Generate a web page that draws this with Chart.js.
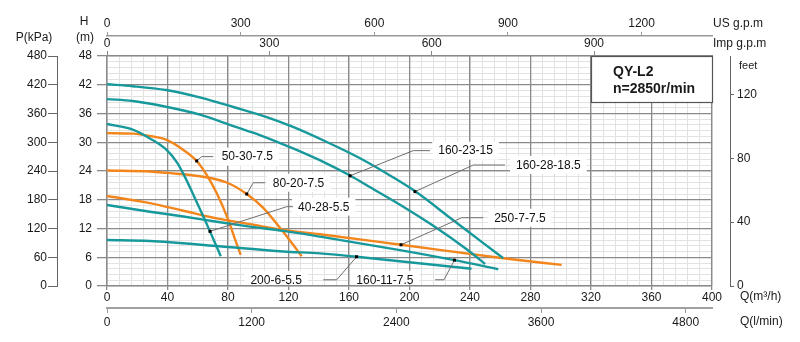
<!DOCTYPE html>
<html>
<head>
<meta charset="utf-8">
<style>
html,body{margin:0;padding:0;background:#ffffff;}
#wrap{width:800px;height:342px;position:relative;}
</style>
<script src="https://cdn.jsdelivr.net/npm/chart.js@4/dist/chart.umd.min.js"></script>
</head>
<body>
<div id="wrap"><canvas id="c" width="800" height="342"></canvas></div>
<script>
// ---------- tick labels ----------
const flowTicks = [0, 40, 80, 120, 160, 200, 240, 280, 320, 360, 400];   // Q (m3/h)
const headTicks = [0, 6, 12, 18, 24, 30, 36, 42, 48];                     // H (m)
const pressureTicks = [0, 60, 120, 180, 240, 300, 360, 420, 480];         // P (kPa)
const feetTicks = [0, 40, 80, 120];                                       // feet
const usGpmTicks = [0, 300, 600, 900, 1200];                              // US g.p.m
const impGpmTicks = [0, 300, 600, 900];                                   // Imp g.p.m
const lpmTicks = [0, 1200, 2400, 3600, 4800];                             // Q (l/min)

// ---------- pump curves (Q m3/h, H m) ----------
const q_160_28_18_5 = [0, 17, 39, 62, 84, 108, 123, 145, 167, 189, 204, 227, 249, 262];
const h_160_28_18_5 = [42.1, 41.7, 40.9, 39.3, 37.3, 35.0, 33.2, 30.1, 26.7, 22.7, 19.7, 14.2, 8.9, 5.8];

const q_160_23_15 = [0, 17, 39, 62, 84, 101, 123, 145, 161, 174, 194, 216, 238, 250];
const h_160_23_15 = [39.0, 38.6, 37.4, 35.7, 33.3, 31.5, 28.7, 25.6, 23.0, 20.6, 16.9, 12.5, 7.6, 4.6];

const q_40_28_5_5 = [0, 17.4, 28.4, 39.4, 46, 50.5, 57, 63.7, 68.1, 72.5, 75.2];
const h_40_28_5_5 = [33.8, 32.6, 30.8, 28.4, 25.9, 23.4, 19.1, 14.5, 11.4, 8.2, 6.2];

const q_50_30_7_5 = [0, 17.4, 28.4, 39.4, 50.5, 59.3, 65.9, 72.5, 80.2, 84.6, 88.4];
const h_50_30_7_5 = [31.9, 31.8, 31.3, 30.5, 28.4, 26.1, 23.2, 19.4, 13.8, 9.8, 6.5];

const q_80_20_7_5 = [0, 28.4, 39.4, 61.5, 79.1, 92.4, 103.3, 112.2, 118.8, 125.4, 128.7];
const h_80_20_7_5 = [24.1, 23.9, 23.6, 22.9, 21.6, 19.2, 16.3, 13.0, 10.4, 7.6, 6.2];

const q_250_7_7_5 = [0, 28.4, 50.5, 72.5, 94.5, 116.6, 140.8, 194.4, 262, 300.6];
const h_250_7_7_5 = [18.8, 17.3, 15.7, 14.1, 12.9, 11.7, 10.8, 8.6, 5.8, 4.4];

const q_160_11_7_5 = [0, 28.4, 50.5, 72.5, 94.5, 116.6, 140.8, 193.7, 229.7, 258.7];
const h_160_11_7_5 = [16.9, 15.5, 14.5, 13.4, 12.4, 11.5, 10.3, 7.5, 5.4, 3.5];

const q_200_6_5_5 = [0, 28.4, 72.5, 116.6, 140.8, 165, 241];
const h_200_6_5_5 = [9.6, 9.4, 8.35, 7.2, 6.8, 6.1, 3.6];

// ---------- curve labels ----------
const labelNames = ['50-30-7.5', '80-20-7.5', '40-28-5.5', '160-23-15', '160-28-18.5', '250-7-7.5', '200-6-5.5', '160-11-7.5'];
const labelDotQ = [59.3, 92.4, 68.1, 160.7, 203.6, 194.4, 165, 229.7];
const labelDotH = [26.1, 19.2, 11.4, 23.0, 19.7, 8.6, 6.1, 5.4];

// leader-line layout (data units), kept apart from the values
const leaderLayout = [
  {ex: 62.6, eh: 27.0, endQ: 70.3, textQ: 75.8, align: 'left'},
  {ex: 96.7, eh: 21.55, endQ: 104.5, textQ: 109.6, align: 'left'},
  {ex: 118.8, eh: 16.55, endQ: 123.0, textQ: 126.3, align: 'left'},
  {ex: 202.5, eh: 28.25, endQ: 213.6, textQ: 219.0, align: 'left'},
  {ex: 242.2, eh: 25.25, endQ: 263.1, textQ: 270.4, align: 'left'},
  {ex: 234.5, eh: 14.25, endQ: 248.8, textQ: 256.0, align: 'left'},
  {ex: 151.9, eh: 1.3, endQ: 143.0, textQ: 128.8, align: 'right'},
  {ex: 222.8, eh: 1.3, endQ: 216.9, textQ: 202.6, align: 'right'}
];

const TEAL = '#17999c';
const ORANGE = '#f2861c';
const MAJOR = '#8a8a8a';
const MINOR = '#e2e2e2';
const FONT = '"Liberation Sans", Arial, Helvetica, sans-serif';
const tickFont = {family: FONT, size: 12};

const series = [
  {q: q_160_28_18_5, h: h_160_28_18_5, c: TEAL},
  {q: q_160_23_15, h: h_160_23_15, c: TEAL},
  {q: q_40_28_5_5, h: h_40_28_5_5, c: TEAL},
  {q: q_160_11_7_5, h: h_160_11_7_5, c: TEAL},
  {q: q_200_6_5_5, h: h_200_6_5_5, c: TEAL},
  {q: q_50_30_7_5, h: h_50_30_7_5, c: ORANGE},
  {q: q_80_20_7_5, h: h_80_20_7_5, c: ORANGE},
  {q: q_250_7_7_5, h: h_250_7_7_5, c: ORANGE}
];

const setTicks = (arr) => (s) => { s.ticks = arr.map(v => ({value: v})); };
const fixSize = (n) => (s) => { if (s.isHorizontal()) { s.height = n; } else { s.width = n; } };
const plain = (v) => String(v);

const annotations = {
  id: 'annotations',
  afterDatasetsDraw(chart) {
    const ctx = chart.ctx;
    const xs = chart.scales.x, ys = chart.scales.y;
    const area = chart.chartArea;
    ctx.save();
    // model box
    const bx1 = xs.getPixelForValue(320), bx2 = xs.getPixelForValue(400);
    const by1 = ys.getPixelForValue(48), by2 = ys.getPixelForValue(38.4);
    ctx.fillStyle = '#ffffff';
    ctx.fillRect(bx1, by1, bx2 - bx1, by2 - by1);
    ctx.strokeStyle = '#555555';
    ctx.lineWidth = 1.2;
    ctx.strokeRect(Math.round(bx1) + 0.5, Math.round(by1) + 0.5, bx2 - bx1, by2 - by1);
    ctx.fillStyle = '#1a1a1a';
    ctx.font = 'bold 14px ' + FONT;
    ctx.textAlign = 'left';
    ctx.textBaseline = 'middle';
    ctx.fillText('QY-L2', bx1 + 22, by1 + 16);
    ctx.fillText('n=2850r/min', bx1 + 22, by1 + 33);

    // curve labels
    ctx.font = '12px ' + FONT;
    labelNames.forEach((name, i) => {
      const L = leaderLayout[i];
      const dx = xs.getPixelForValue(labelDotQ[i]);
      const dy = ys.getPixelForValue(labelDotH[i]);
      const exx = xs.getPixelForValue(L.ex);
      const eyy = ys.getPixelForValue(L.eh);
      const enx = xs.getPixelForValue(L.endQ);
      const tx = xs.getPixelForValue(L.textQ);
      const w = ctx.measureText(name).width;
      const left = L.align === 'left' ? tx : tx - w;
      let top = eyy - 9, bottom = eyy + 9;
      if (bottom > area.bottom - 1.5) bottom = area.bottom - 1.5;
      ctx.fillStyle = '#ffffff';
      ctx.fillRect(left - 6, top, w + 12, bottom - top);
      ctx.fillStyle = '#111111';
      ctx.textAlign = 'left';
      ctx.fillText(name, left, eyy + 0.5);
      ctx.strokeStyle = '#6e6e6e';
      ctx.lineWidth = 1;
      ctx.beginPath();
      ctx.moveTo(dx, dy);
      ctx.lineTo(exx, eyy);
      ctx.lineTo(enx, eyy);
      ctx.stroke();
      ctx.fillStyle = '#000000';
      ctx.fillRect(dx - 1.5, dy - 1.5, 3, 3);
    });
    ctx.restore();
  },
  afterDraw(chart) {
    const ctx = chart.ctx;
    ctx.save();
    ctx.fillStyle = '#1a1a1a';
    ctx.textBaseline = 'middle';
    ctx.font = '12px ' + FONT;
    ctx.textAlign = 'center';
    ctx.fillText('P(kPa)', 34, 38);
    ctx.fillText('H', 84, 22);
    ctx.fillText('(m)', 85, 38);
    ctx.textAlign = 'left';
    ctx.fillText('US g.p.m', 713, 24);
    ctx.fillText('Imp g.p.m', 713, 44);
    ctx.fillText('Q(m\u00b3/h)', 740, 297);
    ctx.fillText('Q(l/min)', 740, 322);
    ctx.font = '11px ' + FONT;
    ctx.fillText('feet', 739, 66);
    ctx.restore();
  }
};

new Chart(document.getElementById('c'), {
  type: 'line',
  data: {
    datasets: series.map(s => ({
      data: s.q.map((x, i) => ({x: x, y: s.h[i]})),
      borderColor: s.c,
      backgroundColor: s.c,
      borderWidth: 2.4,
      pointRadius: 0,
      fill: false,
      cubicInterpolationMode: 'monotone',
      xAxisID: 'x',
      yAxisID: 'y'
    }))
  },
  options: {
    responsive: false,
    animation: false,
    devicePixelRatio: 1,
    layout: {padding: 0},
    plugins: {legend: {display: false}, tooltip: {enabled: false}, title: {display: false}},
    events: [],
    scales: {
      x: {
        type: 'linear', position: 'bottom', min: 0, max: 400, weight: 0,
        afterBuildTicks: setTicks(flowTicks), afterFit: fixSize(22),
        ticks: {autoSkip: false, maxRotation: 0, font: tickFont, color: '#1a1a1a', padding: 0, callback: plain},
        grid: {color: MAJOR, lineWidth: 1.3, tickLength: 4, tickColor: MAJOR, z: -1},
        border: {display: true, color: MAJOR, width: 1.3}
      },
      x2: {
        type: 'linear', position: 'bottom', min: 0, max: 5018, weight: 1,
        afterBuildTicks: setTicks(lpmTicks), afterFit: fixSize(34),
        ticks: {autoSkip: false, maxRotation: 0, font: tickFont, color: '#1a1a1a', padding: 2, callback: plain},
        grid: {drawOnChartArea: false, tickLength: 5, tickColor: '#999999', lineWidth: 1},
        border: {display: true, color: '#a0a0a0', width: 2}
      },
      xImp: {
        type: 'linear', position: 'top', min: 0, max: 1118, weight: 0,
        afterBuildTicks: setTicks(impGpmTicks), afterFit: fixSize(20),
        ticks: {autoSkip: false, maxRotation: 0, font: tickFont, color: '#1a1a1a', padding: 0, callback: plain},
        grid: {drawOnChartArea: false, tickLength: 5, tickColor: '#888888', lineWidth: 1},
        border: {display: true, color: MAJOR, width: 1.3}
      },
      xUS: {
        type: 'linear', position: 'top', min: 0, max: 1358, weight: 1,
        afterBuildTicks: setTicks(usGpmTicks), afterFit: fixSize(36),
        ticks: {autoSkip: false, maxRotation: 0, font: tickFont, color: '#1a1a1a', padding: 1, callback: plain},
        grid: {drawOnChartArea: false, tickLength: 4, tickColor: '#999999', lineWidth: 1},
        border: {display: true, color: '#999999', width: 1.5}
      },
      xMinor: {
        type: 'linear', position: 'bottom', min: 0, max: 400, weight: 5,
        afterFit: fixSize(0),
        ticks: {display: false, stepSize: 8},
        grid: {color: MINOR, lineWidth: 1, drawTicks: false, z: -2},
        border: {display: false}
      },
      y: {
        type: 'linear', position: 'left', min: 0, max: 48, weight: 0,
        afterBuildTicks: setTicks(headTicks), afterFit: fixSize(50),
        ticks: {autoSkip: false, font: tickFont, color: '#1a1a1a', padding: 5, callback: plain},
        grid: {color: MAJOR, lineWidth: 1.3, tickLength: 10, tickColor: MAJOR, z: -1},
        border: {display: true, color: MAJOR, width: 1.3}
      },
      yP: {
        type: 'linear', position: 'left', min: 0, max: 480, weight: 1,
        afterBuildTicks: setTicks(pressureTicks), afterFit: fixSize(57),
        ticks: {autoSkip: false, font: tickFont, color: '#1a1a1a', padding: 1, callback: plain},
        grid: {drawOnChartArea: false, tickLength: 9, tickColor: '#666666', lineWidth: 1},
        border: {display: true, color: '#666666', width: 1}
      },
      yMinor: {
        type: 'linear', position: 'left', min: 0, max: 48, weight: 5,
        afterFit: fixSize(0),
        ticks: {display: false, stepSize: 1.2},
        grid: {color: MINOR, lineWidth: 1, drawTicks: false, z: -2},
        border: {display: false}
      },
      ySpacer: {
        type: 'linear', position: 'right', min: 0, max: 1, weight: 0,
        afterFit: fixSize(18),
        ticks: {display: false},
        grid: {display: false},
        border: {display: false}
      },
      yFeet: {
        type: 'linear', position: 'right', min: 0, max: 144, weight: 1,
        afterBuildTicks: setTicks(feetTicks), afterFit: fixSize(70),
        ticks: {autoSkip: false, font: tickFont, color: '#1a1a1a', padding: 3, callback: plain},
        grid: {drawOnChartArea: false, tickLength: 4, tickColor: '#666666', lineWidth: 1},
        border: {display: true, color: '#666666', width: 1}
      }
    }
  },
  plugins: [annotations]
});
</script>
</body>
</html>
